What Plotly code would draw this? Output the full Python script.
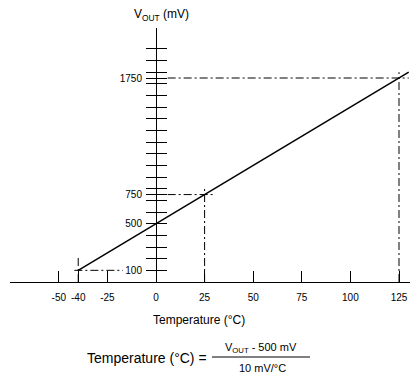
import plotly.graph_objects as go

# ---- data ----
line_temp = [-40, 130]          # deg C
line_vout = [100, 1800]         # mV

x_tickvals = [-50, -40, -25, 0, 25, 50, 75, 100, 125]
y_tickvals = sorted(list(range(100, 2001, 100)) + [750, 1750])
y_label_vals = [100, 500, 750, 1750]
y_label_text = ["100", "500", "750", "1750"]

# guide (dash-dot) lines
h_guide_vout = [100, 750, 1750]
h_guide_temp = [[-42, -17], [6, 30], [6, 130]]
v_guide_temp = [-40, 25, 125]
v_guide_vout = [[0, 230], [0, 800], [0, 1800]]

W, H = 420, 376
FONT = "Liberation Sans, Arial, sans-serif"
DASH = "8px,3px,2px,3px"


def pxx(x):
    return x / W


def pxy(y):
    return 1 - y / H


fig = go.Figure()

for v, (t0, t1) in zip(h_guide_vout, h_guide_temp):
    fig.add_trace(go.Scatter(x=[t0, t1], y=[v, v], mode="lines", yaxis="y2",
                             line=dict(color="black", width=1, dash=DASH),
                             hoverinfo="skip", showlegend=False))
for t, (v0, v1) in zip(v_guide_temp, v_guide_vout):
    fig.add_trace(go.Scatter(x=[t, t], y=[v0, v1], mode="lines", yaxis="y3",
                             line=dict(color="black", width=1, dash=DASH),
                             hoverinfo="skip", showlegend=False))

fig.add_trace(go.Scatter(x=line_temp, y=line_vout, mode="lines",
                         line=dict(color="black", width=1.5),
                         showlegend=False))

# axis geometry in reference pixels
x_axis_px = (10, 410)
y_axis_x_px = 156
y_axis_top_px, y_axis_bot_px = 28, 282
xr = [-75.1, 130.66]
yr = [0, 2179]

ydom = [pxy(y_axis_bot_px), pxy(y_axis_top_px)]
ypos = pxx(y_axis_x_px)

common_y = dict(domain=ydom, range=yr, anchor="free", position=ypos,
                showgrid=False, zeroline=False,
                tickwidth=1, tickcolor="black", ticklen=10, ticks="outside")

fig.update_layout(
    width=W, height=H,
    margin=dict(l=0, r=0, t=0, b=0),
    paper_bgcolor="white", plot_bgcolor="white",
    font=dict(family=FONT, color="black", size=10),
    xaxis=dict(domain=[pxx(x_axis_px[0]), pxx(x_axis_px[1])], range=xr,
               anchor="y", showgrid=False, zeroline=False,
               showline=True, linecolor="black", linewidth=1,
               ticks="inside", ticklen=11, tickwidth=1, tickcolor="black",
               tickvals=x_tickvals, ticktext=[str(v) for v in x_tickvals],
               tickfont=dict(size=10, family=FONT), ticklabelstandoff=6),
    yaxis=dict(**common_y, side="left", showline=True, linecolor="black",
               linewidth=1, tickvals=y_label_vals, ticktext=y_label_text,
               tickfont=dict(size=10, family=FONT), ticklabelstandoff=2),
    yaxis2=dict(**common_y, side="right", overlaying="y", showline=False,
                tickvals=y_tickvals, showticklabels=False),
    yaxis3=dict(**common_y, side="left", overlaying="y", showline=False,
                tickvals=y_tickvals, showticklabels=False),
)

annots = [
    ("V<sub>OUT</sub> (mV)", 161, 15, "center", 12),
    ("Temperature (°C)", 199, 320, "center", 12),
    ("Temperature (°C) =", 209, 358, "right", 14),
    ("V<sub>OUT</sub> - 500 mV", 261, 348, "center", 11),
    ("10 mV/°C", 262, 368, "center", 11),
]
for text, x, y, xa, size in annots:
    fig.add_annotation(text=text, x=pxx(x), y=pxy(y), xref="paper", yref="paper",
                       xanchor=xa, yanchor="middle", showarrow=False,
                       font=dict(size=size, family=FONT, color="black"))

fig.add_shape(type="line", xref="paper", yref="paper",
              x0=pxx(212), x1=pxx(310), y0=pxy(357), y1=pxy(357),
              line=dict(color="black", width=1))

fig.write_html("out.html",
               config={"displayModeBar": False},
               post_script="document.body.style.margin='0px';"
                           "document.body.style.overflow='hidden';")
